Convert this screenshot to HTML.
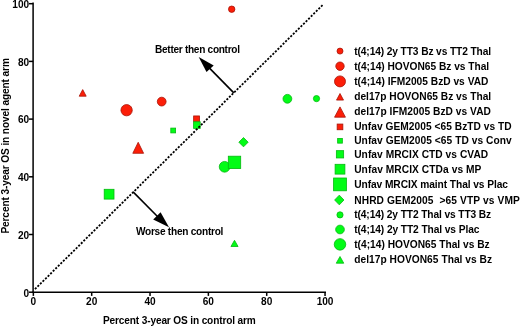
<!DOCTYPE html>
<html><head><meta charset="utf-8"><style>
html,body{margin:0;padding:0;background:#fff;}
body{width:520px;height:327px;overflow:hidden;}
svg{display:block;}
text{font-family:'Liberation Sans', Arial, Helvetica, sans-serif;fill:#000;}
</style></head><body>
<svg width="520" height="327" viewBox="0 0 520 327">
<rect width="520" height="327" fill="#fff"/>
<circle cx="231.7" cy="9.2" r="3.20" fill="#fc1e08" stroke="#a81408" stroke-width="0.8"/>
<circle cx="161.7" cy="101.6" r="4.40" fill="#fc1e08" stroke="#a81408" stroke-width="0.8"/>
<circle cx="126.6" cy="110.2" r="5.65" fill="#fc1e08" stroke="#a81408" stroke-width="0.8"/>
<polygon points="82.7,89.60000000000001 86.20,96.20 79.20,96.20" fill="#fc1e08" stroke="#a81408" stroke-width="0.8" stroke-linejoin="miter"/>
<polygon points="138.2,142.3 143.60,153.30 132.80,153.30" fill="#fc1e08" stroke="#a81408" stroke-width="0.8" stroke-linejoin="miter"/>
<rect x="193.65" y="115.95" width="5.90" height="5.90" fill="#fc1e08" stroke="#a81408" stroke-width="0.8"/>
<rect x="170.80" y="128.10" width="4.80" height="4.80" fill="#02fc16" stroke="#05b810" stroke-width="0.8"/>
<rect x="193.60" y="121.80" width="6.60" height="6.60" fill="#02fc16" stroke="#05b810" stroke-width="0.8"/>
<rect x="104.20" y="189.30" width="9.80" height="9.80" fill="#02fc16" stroke="#05b810" stroke-width="0.8"/>
<polygon points="243.5,137.55 248.15,142.2 243.5,146.85 238.85,142.2" fill="#02fc16" stroke="#05b810" stroke-width="0.8"/>
<circle cx="316.5" cy="98.6" r="3.10" fill="#02fc16" stroke="#05b810" stroke-width="0.8"/>
<circle cx="287.4" cy="98.8" r="4.40" fill="#02fc16" stroke="#05b810" stroke-width="0.8"/>
<circle cx="224.6" cy="166.8" r="5.35" fill="#02fc16" stroke="#05b810" stroke-width="0.8"/>
<rect x="228.30" y="156.20" width="12.40" height="12.40" fill="#02fc16" stroke="#05b810" stroke-width="0.8"/>
<polygon points="234.5,240.3 238.05,246.50 230.95,246.50" fill="#02fc16" stroke="#05b810" stroke-width="0.8" stroke-linejoin="miter"/>
<line x1="34.95" y1="289.14" x2="322.55" y2="5.16" stroke="#000" stroke-width="1.8" stroke-dasharray="2.1 1.490"/>
<line x1="233.8" y1="92.9" x2="209.0" y2="67.6" stroke="#000" stroke-width="1.6" />
<polygon points="198.7,57.1 213.7,65.5 206.5,72.0" fill="#000"/>
<line x1="133.1" y1="191.9" x2="158.0" y2="217.0" stroke="#000" stroke-width="1.6" />
<polygon points="169.0,227.2 153.2,219.5 160.6,212.3" fill="#000"/>
<line x1="33.1" y1="2.6" x2="33.1" y2="293.05" stroke="#000" stroke-width="1.5" />
<line x1="32.35" y1="292.3" x2="326.0" y2="292.3" stroke="#000" stroke-width="1.5" />
<line x1="29.0" y1="292.2" x2="33.1" y2="292.2" stroke="#000" stroke-width="1.5" />
<line x1="33.35" y1="292.3" x2="33.35" y2="295.9" stroke="#000" stroke-width="1.5" />
<text x="29.2" y="296.5" font-size="10.1" font-weight="bold" text-anchor="end" >0</text>
<text x="33.35" y="305.4" font-size="10.1" font-weight="bold" text-anchor="middle" >0</text>
<line x1="29.0" y1="234.5" x2="33.1" y2="234.5" stroke="#000" stroke-width="1.5" />
<line x1="91.69" y1="292.3" x2="91.69" y2="295.9" stroke="#000" stroke-width="1.5" />
<text x="29.2" y="238.8" font-size="10.1" font-weight="bold" text-anchor="end" >20</text>
<text x="91.69" y="305.4" font-size="10.1" font-weight="bold" text-anchor="middle" >20</text>
<line x1="29.0" y1="176.8" x2="33.1" y2="176.8" stroke="#000" stroke-width="1.5" />
<line x1="150.03" y1="292.3" x2="150.03" y2="295.9" stroke="#000" stroke-width="1.5" />
<text x="29.2" y="181.1" font-size="10.1" font-weight="bold" text-anchor="end" >40</text>
<text x="150.03" y="305.4" font-size="10.1" font-weight="bold" text-anchor="middle" >40</text>
<line x1="29.0" y1="119.1" x2="33.1" y2="119.1" stroke="#000" stroke-width="1.5" />
<line x1="208.37" y1="292.3" x2="208.37" y2="295.9" stroke="#000" stroke-width="1.5" />
<text x="29.2" y="123.4" font-size="10.1" font-weight="bold" text-anchor="end" >60</text>
<text x="208.37" y="305.4" font-size="10.1" font-weight="bold" text-anchor="middle" >60</text>
<line x1="29.0" y1="61.4" x2="33.1" y2="61.4" stroke="#000" stroke-width="1.5" />
<line x1="266.71" y1="292.3" x2="266.71" y2="295.9" stroke="#000" stroke-width="1.5" />
<text x="29.2" y="65.7" font-size="10.1" font-weight="bold" text-anchor="end" >80</text>
<text x="266.71" y="305.4" font-size="10.1" font-weight="bold" text-anchor="middle" >80</text>
<line x1="29.0" y1="3.7" x2="33.1" y2="3.7" stroke="#000" stroke-width="1.5" />
<line x1="325.05" y1="292.3" x2="325.05" y2="295.9" stroke="#000" stroke-width="1.5" />
<text x="29.2" y="8.0" font-size="10.1" font-weight="bold" text-anchor="end" >100</text>
<text x="325.05" y="305.4" font-size="10.1" font-weight="bold" text-anchor="middle" >100</text>
<text x="103.0" y="324.4" font-size="10.1" font-weight="bold" text-anchor="start" textLength="152.8" lengthAdjust="spacing" >Percent 3-year OS in control arm</text>
<text x="0" y="0" font-size="10.1" font-weight="bold" text-anchor="start" textLength="175.5" lengthAdjust="spacing" transform="translate(8.6 233.6) rotate(-90)">Percent 3-year OS in novel agent arm</text>
<text x="155.0" y="52.8" font-size="10.1" font-weight="bold" text-anchor="start" textLength="85.0" lengthAdjust="spacing" >Better then control</text>
<text x="135.9" y="235.0" font-size="10.1" font-weight="bold" text-anchor="start" textLength="87.5" lengthAdjust="spacing" >Worse then control</text>
<circle cx="340.0" cy="51.1" r="3.00" fill="#fc1e08" stroke="#a81408" stroke-width="0.8"/>
<text x="354.2" y="54.8" font-size="10.2" font-weight="bold" text-anchor="start" textLength="136.9" lengthAdjust="spacing" xml:space="preserve">t(4;14) 2y TT3 Bz vs TT2 Thal</text>
<circle cx="340.0" cy="66.2" r="4.20" fill="#fc1e08" stroke="#a81408" stroke-width="0.8"/>
<text x="354.2" y="69.5" font-size="10.2" font-weight="bold" text-anchor="start" textLength="135.0" lengthAdjust="spacing" xml:space="preserve">t(4;14) HOVON65 Bz vs Thal</text>
<circle cx="340.0" cy="81.4" r="5.50" fill="#fc1e08" stroke="#a81408" stroke-width="0.8"/>
<text x="354.2" y="84.8" font-size="10.2" font-weight="bold" text-anchor="start" textLength="134.2" lengthAdjust="spacing" xml:space="preserve">t(4;14) IFM2005 BzD vs VAD</text>
<polygon points="340.0,93.5 343.50,100.10 336.50,100.10" fill="#fc1e08" stroke="#a81408" stroke-width="0.8" stroke-linejoin="miter"/>
<text x="354.2" y="99.7" font-size="10.2" font-weight="bold" text-anchor="start" textLength="137.0" lengthAdjust="spacing" xml:space="preserve">del17p HOVON65 Bz vs Thal</text>
<polygon points="340.0,106.9 345.45,117.20 334.55,117.20" fill="#fc1e08" stroke="#a81408" stroke-width="0.8" stroke-linejoin="miter"/>
<text x="354.2" y="115.0" font-size="10.2" font-weight="bold" text-anchor="start" textLength="136.7" lengthAdjust="spacing" xml:space="preserve">del17p IFM2005 BzD vs VAD</text>
<rect x="337.15" y="124.05" width="5.70" height="5.70" fill="#fc1e08" stroke="#a81408" stroke-width="0.8"/>
<text x="354.2" y="129.9" font-size="10.2" font-weight="bold" text-anchor="start" textLength="157.5" lengthAdjust="spacing" xml:space="preserve">Unfav GEM2005 &lt;65 BzTD vs TD</text>
<rect x="337.65" y="138.45" width="4.70" height="4.70" fill="#02fc16" stroke="#05b810" stroke-width="0.8"/>
<text x="354.2" y="144.1" font-size="10.2" font-weight="bold" text-anchor="start" textLength="157.5" lengthAdjust="spacing" xml:space="preserve">Unfav GEM2005 &lt;65 TD vs Conv</text>
<rect x="336.35" y="150.65" width="7.30" height="7.30" fill="#02fc16" stroke="#05b810" stroke-width="0.8"/>
<text x="354.2" y="157.9" font-size="10.2" font-weight="bold" text-anchor="start" textLength="134.0" lengthAdjust="spacing" xml:space="preserve">Unfav MRCIX CTD vs CVAD</text>
<rect x="335.10" y="164.30" width="9.80" height="9.80" fill="#02fc16" stroke="#05b810" stroke-width="0.8"/>
<text x="354.2" y="172.5" font-size="10.2" font-weight="bold" text-anchor="start" textLength="127.2" lengthAdjust="spacing" xml:space="preserve">Unfav MRCIX CTDa vs MP</text>
<rect x="333.60" y="178.00" width="12.80" height="12.80" fill="#02fc16" stroke="#05b810" stroke-width="0.8"/>
<text x="354.2" y="187.6" font-size="10.2" font-weight="bold" text-anchor="start" textLength="153.8" lengthAdjust="spacing" xml:space="preserve">Unfav MRCIX maint Thal vs Plac</text>
<polygon points="339.3,195.15 343.95,200.0 339.3,204.85 334.65,200.0" fill="#02fc16" stroke="#05b810" stroke-width="0.8"/>
<text x="354.2" y="203.6" font-size="10.2" font-weight="bold" text-anchor="start" textLength="165.6" lengthAdjust="spacing" xml:space="preserve">NHRD GEM2005  &gt;65 VTP vs VMP</text>
<circle cx="340.0" cy="214.9" r="3.10" fill="#02fc16" stroke="#05b810" stroke-width="0.8"/>
<text x="354.2" y="218.1" font-size="10.2" font-weight="bold" text-anchor="start" textLength="137.0" lengthAdjust="spacing" xml:space="preserve">t(4;14) 2y TT2 Thal vs TT3 Bz</text>
<circle cx="340.0" cy="229.5" r="4.35" fill="#02fc16" stroke="#05b810" stroke-width="0.8"/>
<text x="354.2" y="233.2" font-size="10.2" font-weight="bold" text-anchor="start" textLength="125.2" lengthAdjust="spacing" xml:space="preserve">t(4;14) 2y TT2 Thal vs Plac</text>
<circle cx="340.0" cy="244.4" r="5.75" fill="#02fc16" stroke="#05b810" stroke-width="0.8"/>
<text x="354.2" y="248.1" font-size="10.2" font-weight="bold" text-anchor="start" textLength="135.4" lengthAdjust="spacing" xml:space="preserve">t(4;14) HOVON65 Thal vs Bz</text>
<polygon points="340.0,256.5 343.75,263.20 336.25,263.20" fill="#02fc16" stroke="#05b810" stroke-width="0.8" stroke-linejoin="miter"/>
<text x="354.2" y="263.3" font-size="10.2" font-weight="bold" text-anchor="start" textLength="137.9" lengthAdjust="spacing" xml:space="preserve">del17p HOVON65 Thal vs Bz</text>
</svg>
</body></html>
